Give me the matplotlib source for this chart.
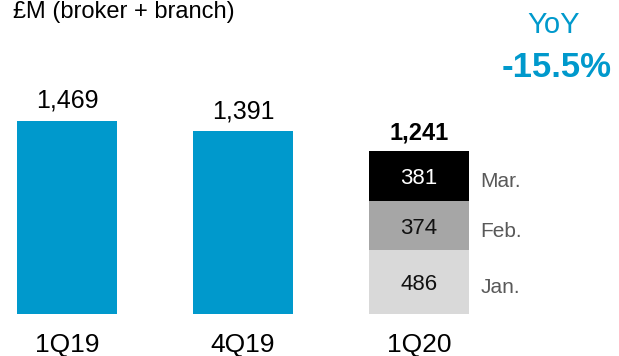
#!/usr/bin/python3
# coding: utf-8

import matplotlib
matplotlib.use("Agg")
import matplotlib.pyplot as plt

# lending volumes, £M (broker + branch)
quarters = ["1Q19", "4Q19", "1Q20"]
quarter_totals = [1469, 1391]
months = ["Jan.", "Feb.", "Mar."]
month_values = [486, 374, 381]
yoy_label = "-15.5%"

BLUE = "#0099CC"
month_colors = ["#D9D9D9", "#A6A6A6", "#000000"]
month_text = ["#111111", "#111111", "#FFFFFF"]

plt.rcParams["font.family"] = ["Liberation Sans", "DejaVu Sans"]

fig = plt.figure(figsize=(6.19, 3.56), dpi=100)
ax = fig.add_axes([0, 0, 1, 1])
ax.set_xlim(-0.3807, 3.136)
ax.set_ylim(-319.7, 2390)
ax.axis("off")

width = 0.568

# full-quarter bars
for i, v in enumerate(quarter_totals):
    ax.bar(i, v, width=width, color=BLUE)
    ax.annotate(f"{v:,}", xy=(i, v), xytext=(0, 9.4), textcoords="offset points",
                ha="center", va="baseline", fontsize=18)

# 1Q20 stacked by month
x3 = len(quarter_totals)
bottom = 0
for name, v, c, tc in zip(months, month_values, month_colors, month_text):
    ax.bar(x3, v, width=width, bottom=bottom, color=c)
    mid = bottom + v / 2
    ax.annotate(str(v), xy=(x3, mid), xytext=(0, -5.8), textcoords="offset points",
                ha="center", va="baseline", fontsize=16, color=tc)
    ax.annotate(name, xy=(x3 + width / 2, mid), xytext=(8, -8), textcoords="offset points",
                ha="left", va="baseline", fontsize=15, color="#595959")
    bottom += v

total = sum(month_values)
ax.annotate(f"{total:,}", xy=(x3, total), xytext=(0, 8.4), textcoords="offset points",
            ha="center", va="baseline", fontsize=17, fontweight="bold")

for i, q in enumerate(quarters):
    ax.annotate(q, xy=(i, 0), xytext=(0, -27.4), textcoords="offset points",
                ha="center", va="baseline", fontsize=19)

fig.text(0.021, 0.949, "£M (broker + branch)", fontsize=17, va="baseline")
fig.text(0.895, 0.907, "YoY", fontsize=21, color=BLUE, ha="center", va="baseline")
fig.text(0.900, 0.784, yoy_label, fontsize=25, color=BLUE, fontweight="bold",
         ha="center", va="baseline")

fig.savefig("out.png", dpi=100)
